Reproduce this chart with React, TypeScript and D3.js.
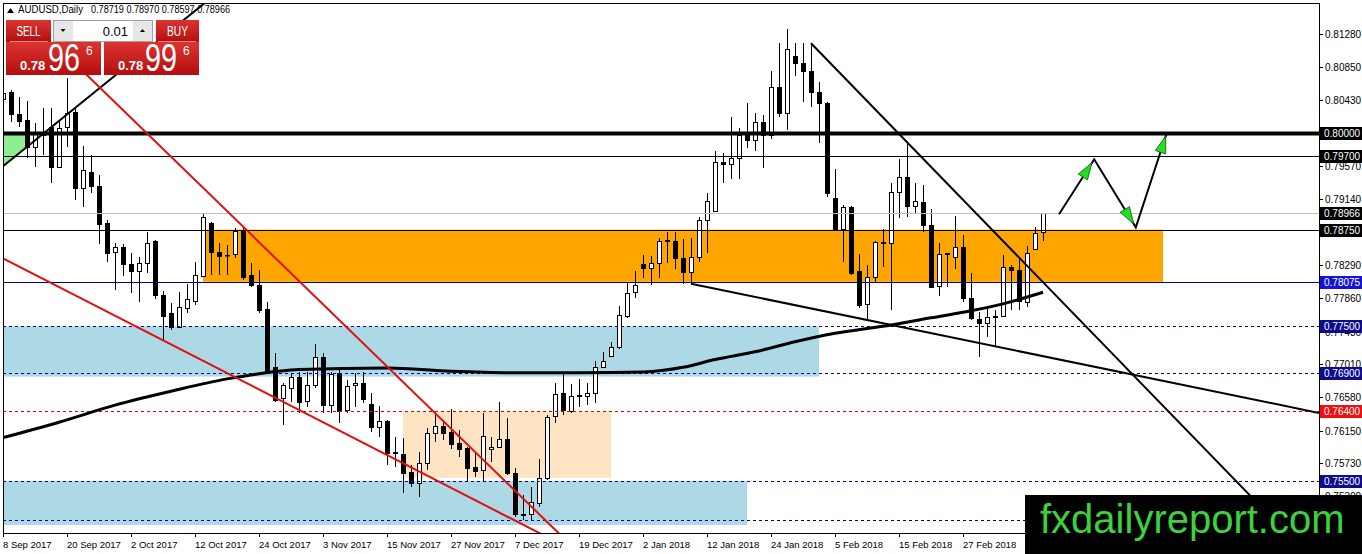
import React, { useEffect } from "react";
import * as d3 from "d3";

// chart geometry
const W = 1362;
const H = 554;
const LEFT = 3;
const RIGHT = 1319;
const TOP = 3;
const BOTTOM = 533;

// x axis labels (bar index of each label)
const dateLabels = [
  "8 Sep 2017", "20 Sep 2017", "2 Oct 2017", "12 Oct 2017", "24 Oct 2017", "3 Nov 2017",
  "15 Nov 2017", "27 Nov 2017", "7 Dec 2017", "19 Dec 2017", "2 Jan 2018", "12 Jan 2018",
  "24 Jan 2018", "5 Feb 2018", "15 Feb 2018", "27 Feb 2018",
];
const dateBars = [0, 8, 16, 24, 32, 40, 48, 56, 64, 72, 80, 88, 96, 104, 112, 120];

// daily candles, 8 Sep 2017 .. 13 Mar 2018
const opens = [
  0.8044, 0.8053, 0.8025, 0.8017, 0.7982, 0.8, 0.8008, 0.7956, 0.8008, 0.8027,
  0.7929, 0.795, 0.7932, 0.7883, 0.7846, 0.7853, 0.783, 0.7822, 0.7832, 0.786,
  0.7791, 0.7767, 0.7749, 0.7774, 0.7783, 0.7815, 0.7884, 0.7846, 0.7842, 0.7844,
  0.7873, 0.7816, 0.7803, 0.7772, 0.7698, 0.7657, 0.767, 0.7685, 0.7653, 0.7674,
  0.771, 0.7648, 0.769, 0.7642, 0.7674, 0.7677, 0.765, 0.762, 0.7628, 0.7586,
  0.7585, 0.7562, 0.7547, 0.7573, 0.7612, 0.7621, 0.7613, 0.7599, 0.7592, 0.7568,
  0.7564, 0.7591, 0.7594, 0.7604, 0.756, 0.7506, 0.7507, 0.7522, 0.7554, 0.7634,
  0.7664, 0.764, 0.766, 0.766, 0.7664, 0.7698, 0.7712, 0.7723, 0.7763, 0.7794,
  0.7831, 0.7826, 0.7832, 0.786, 0.786, 0.7838, 0.782, 0.784, 0.7888, 0.7899,
  0.7963, 0.796, 0.7968, 0.7997, 0.7991, 0.8014, 0.7997, 0.806, 0.8026, 0.81,
  0.8091, 0.808, 0.8053, 0.8039, 0.7916, 0.7876, 0.7904, 0.7821, 0.7779, 0.7814,
  0.7859, 0.7858, 0.7924, 0.7943, 0.7906, 0.7911, 0.7881, 0.7802, 0.7844, 0.784,
  0.7853, 0.7787, 0.776, 0.7754, 0.7762, 0.7763, 0.7827, 0.7823, 0.7782, 0.785,
  0.78719,
];
const highs = [
  0.8058, 0.8056, 0.8047, 0.8041, 0.8013, 0.8032, 0.8032, 0.8017, 0.8071, 0.8032,
  0.7983, 0.7972, 0.7946, 0.7888, 0.7858, 0.7856, 0.7845, 0.784, 0.7872, 0.7862,
  0.7796, 0.778, 0.7794, 0.7805, 0.7833, 0.7895, 0.7885, 0.7858, 0.7855, 0.7877,
  0.7877, 0.7832, 0.7823, 0.7781, 0.7716, 0.7677, 0.769, 0.7691, 0.7691, 0.7727,
  0.7716, 0.7691, 0.7697, 0.7681, 0.769, 0.7691, 0.7664, 0.7647, 0.7629, 0.7607,
  0.7606, 0.7571, 0.7588, 0.7619, 0.7638, 0.7629, 0.7643, 0.7616, 0.7594, 0.7586,
  0.7638, 0.7607, 0.7652, 0.7632, 0.7567, 0.7532, 0.7542, 0.7579, 0.7635, 0.7677,
  0.7691, 0.7675, 0.7682, 0.7677, 0.7705, 0.7717, 0.773, 0.7776, 0.7806, 0.7822,
  0.7842, 0.7841, 0.7864, 0.7872, 0.7872, 0.7863, 0.7864, 0.7891, 0.7922, 0.7977,
  0.7974, 0.8021, 0.8006, 0.8039, 0.8026, 0.8023, 0.808, 0.8116, 0.8134, 0.8116,
  0.8116, 0.8116, 0.8066, 0.804, 0.7953, 0.7907, 0.7906, 0.7844, 0.7829, 0.786,
  0.7876, 0.7935, 0.7966, 0.7987, 0.7935, 0.7933, 0.7902, 0.7858, 0.7845, 0.7893,
  0.7868, 0.7819, 0.7769, 0.7774, 0.7771, 0.7842, 0.7829, 0.7837, 0.7854, 0.7878,
  0.7897,
];
const lows = [
  0.8039, 0.8014, 0.8008, 0.7968, 0.7956, 0.7972, 0.7935, 0.7955, 0.7982, 0.7913,
  0.7904, 0.7922, 0.7857, 0.7833, 0.7797, 0.7815, 0.7793, 0.7781, 0.7819, 0.7785,
  0.7732, 0.7745, 0.7748, 0.7767, 0.7778, 0.7814, 0.7816, 0.7816, 0.7816, 0.7838,
  0.781, 0.7801, 0.7767, 0.769, 0.7652, 0.7622, 0.7652, 0.7638, 0.7646, 0.767,
  0.7638, 0.7638, 0.7625, 0.7638, 0.7646, 0.7651, 0.7613, 0.7607, 0.7571, 0.7568,
  0.7535, 0.7542, 0.7529, 0.7564, 0.76, 0.7603, 0.7591, 0.7581, 0.7549, 0.7555,
  0.7549, 0.7575, 0.7593, 0.7558, 0.7503, 0.75, 0.75, 0.7516, 0.7551, 0.7625,
  0.7635, 0.7638, 0.7645, 0.7648, 0.7651, 0.7697, 0.771, 0.7721, 0.7761, 0.7787,
  0.7813, 0.7803, 0.7813, 0.7832, 0.7824, 0.7805, 0.7805, 0.7833, 0.7845, 0.7898,
  0.7935, 0.7941, 0.7941, 0.7981, 0.7977, 0.7955, 0.7992, 0.8021, 0.8004, 0.8074,
  0.804, 0.8034, 0.7987, 0.7917, 0.7875, 0.7833, 0.7816, 0.7774, 0.7758, 0.7807,
  0.7827, 0.7771, 0.789, 0.7891, 0.7897, 0.7872, 0.78, 0.7789, 0.7801, 0.7824,
  0.7781, 0.7758, 0.771, 0.7736, 0.7725, 0.7762, 0.7771, 0.7771, 0.7775, 0.7849,
  0.78597,
];
const closes = [
  0.8052, 0.8025, 0.8016, 0.7982, 0.8, 0.7997, 0.7956, 0.8006, 0.8026, 0.7929,
  0.7952, 0.7931, 0.7882, 0.7845, 0.7853, 0.7831, 0.7822, 0.7832, 0.7858, 0.7791,
  0.7763, 0.7749, 0.7775, 0.7785, 0.7816, 0.7891, 0.7846, 0.7841, 0.7842, 0.7873,
  0.7814, 0.7803, 0.7771, 0.7691, 0.7655, 0.7674, 0.7685, 0.7652, 0.7674, 0.771,
  0.7648, 0.7688, 0.7641, 0.7673, 0.7677, 0.7656, 0.762, 0.7628, 0.7586, 0.7587,
  0.756, 0.7547, 0.7573, 0.7612, 0.7621, 0.7612, 0.7598, 0.7591, 0.7567, 0.7563,
  0.7608, 0.7594, 0.7604, 0.756, 0.7507, 0.7507, 0.7523, 0.7554, 0.7633, 0.7663,
  0.7642, 0.766, 0.7661, 0.7664, 0.7697, 0.7705, 0.7723, 0.7765, 0.7793, 0.7803,
  0.7825, 0.7832, 0.786, 0.7861, 0.7838, 0.782, 0.784, 0.7888, 0.7912, 0.7963,
  0.796, 0.7968, 0.7997, 0.7991, 0.8014, 0.7997, 0.806, 0.8026, 0.8109, 0.8091,
  0.808, 0.8053, 0.8039, 0.7922, 0.7876, 0.7904, 0.7819, 0.7778, 0.7814, 0.7859,
  0.7858, 0.7924, 0.7943, 0.7906, 0.7912, 0.7881, 0.7801, 0.7844, 0.7845, 0.7853,
  0.7787, 0.7761, 0.7754, 0.7762, 0.7763, 0.7827, 0.7823, 0.7783, 0.7845, 0.7871,
  0.78966,
];

// moving average, read at a few bars
const maBars = [0, 7, 14, 21, 28, 31, 37, 48, 56, 64, 72, 80, 85, 89, 94, 99, 104, 110, 116, 121, 125, 130];
const maPrices = [
  0.7606, 0.7626, 0.7648, 0.7666, 0.7682, 0.7687, 0.7694, 0.7696, 0.7692, 0.769, 0.769,
  0.7691, 0.7697, 0.7707, 0.7717, 0.773, 0.7741, 0.775, 0.7761, 0.777, 0.7779, 0.7794,
];

// right axis ticks
const priceTicks = [
  0.8128, 0.8085, 0.8043, 0.8, 0.7957, 0.7914, 0.7871, 0.7829, 0.7786, 0.7743, 0.7701,
  0.7658, 0.7615, 0.7573, 0.753,
];

// horizontal levels (the last one has its price tag under the watermark)
const levelPrices = [0.8, 0.797, 0.78966, 0.7875, 0.78075, 0.775, 0.769, 0.764, 0.755, 0.75];
const levelTagged = [true, true, true, true, true, true, true, true, true, false];
const levelStyle = [
  { c: "#000", w: 4, dash: "", bg: "#000" },
  { c: "#000", w: 1, dash: "", bg: "#000" },
  { c: "#c0c0c0", w: 1, dash: "", bg: "#000" },
  { c: "#000", w: 1, dash: "", bg: "#000" },
  { c: "#00008b", w: 1, dash: "", bg: "#1414d8" },
  { c: "#00008b", w: 1, dash: "3,3", bg: "#0c0c8c" },
  { c: "#00008b", w: 1, dash: "3,3", bg: "#0c0c8c" },
  { c: "#e00000", w: 1, dash: "3,3", bg: "#f01010" },
  { c: "#00008b", w: 1, dash: "3,3", bg: "#0c0c8c" },
  { c: "#00008b", w: 1, dash: "3,3", bg: "#0c0c8c" },
];

// rectangles: from bar, to bar, top price, bottom price
const zoneFrom = [-1, -1, 25, 50];
const zoneTo = [102, 93, 145, 76];
const zoneTop = [0.775, 0.755, 0.7875, 0.764];
const zoneBottom = [0.7685, 0.7493, 0.78075, 0.7554];
const zoneColors = ["#add8e6", "#add8e6", "#ffa500", "#ffe4c4"];

// green triangle at top left
const greenBars = [-1, 3.4, 3.4, 0];
const greenPrices = [0.8, 0.8, 0.7986, 0.7957];

// trend lines: [bar, price] -> [bar, price]
const trendFrom = [[0, 0.7957], [7, 0.811], [-1, 0.7843], [101, 0.8116], [86, 0.7805]];
const trendTo = [[27, 0.8183], [72, 0.7457], [70, 0.7467], [162, 0.7466], [164.5, 0.7638]];
const trendColors = ["#000", "#e01010", "#e01010", "#000", "#000"];

// forecast path
const pathBars = [132, 136.4, 141.6, 145.5];
const pathPrices = [0.7895, 0.7966, 0.7878, 0.8001];

const App = () => {
  useEffect(() => {
    document.body.style.margin = "0";
  }, []);

  const x = d3.scaleLinear().domain([0, 130]).range([3, 1043]);
  const y = d3.scaleLinear().domain([0.74827, 0.81681]).range([BOTTOM, TOP]);
  const font = "'Liberation Sans', Arial, sans-serif";

  const maLine = d3
    .line<number>()
    .x((d, i) => x(maBars[i]))
    .y((d) => y(d))
    .curve(d3.curveMonotoneX);

  const arrowHeads: string[] = [];
  for (let i = 1; i < pathBars.length; i++) {
    const x0 = x(pathBars[i - 1]), y0 = y(pathPrices[i - 1]);
    const x1 = x(pathBars[i]), y1 = y(pathPrices[i]);
    const len = Math.hypot(x1 - x0, y1 - y0);
    const ux = (x1 - x0) / len, uy = (y1 - y0) / len;
    const tx = x1 - ux * 4, ty = y1 - uy * 4;
    const bx = tx - ux * 17, by = ty - uy * 17;
    const px = -uy * 5.5, py = ux * 5.5;
    arrowHeads.push(`${tx},${ty} ${bx + px},${by + py} ${bx - px},${by - py}`);
  }

  return (
    <svg width={W} height={H} style={{ display: "block", background: "#fff" }} fontFamily={font}>
      <defs>
        <clipPath id="plot">
          <rect x={LEFT} y={TOP} width={RIGHT - LEFT} height={BOTTOM - TOP} />
        </clipPath>
        <linearGradient id="red" x1="0" y1="0" x2="0" y2="1">
          <stop offset="0" stopColor="#dc3431" />
          <stop offset="1" stopColor="#b30e0e" />
        </linearGradient>
      </defs>

      <g clipPath="url(#plot)">
        {zoneColors.map((c, i) => (
          <rect
            key={"z" + i}
            x={x(zoneFrom[i])}
            y={y(zoneTop[i])}
            width={x(zoneTo[i]) - x(zoneFrom[i])}
            height={y(zoneBottom[i]) - y(zoneTop[i])}
            fill={c}
          />
        ))}
        <polygon
          points={greenBars.map((b, i) => `${x(b)},${y(greenPrices[i])}`).join(" ")}
          fill="#90ee90"
        />

        {closes.map((c, i) => {
          const o = opens[i];
          const cx = Math.round(x(i));
          const top = Math.round(y(Math.max(o, c)));
          const bot = Math.round(y(Math.min(o, c)));
          const bull = c >= o;
          return (
            <g key={"c" + i}>
              <line
                x1={cx + 0.5}
                x2={cx + 0.5}
                y1={Math.round(y(highs[i]))}
                y2={Math.round(y(lows[i]))}
                stroke="#000"
              />
              <rect
                x={cx - 1.5}
                y={top + 0.5}
                width={4}
                height={Math.max(bot - top, 0.5)}
                fill={bull ? "#fff" : "#000"}
                stroke="#000"
              />
            </g>
          );
        })}

        {levelPrices.map((p, i) => (
          <line
            key={"l" + i}
            x1={LEFT}
            x2={RIGHT}
            y1={Math.round(y(p)) + 0.5}
            y2={Math.round(y(p)) + 0.5}
            stroke={levelStyle[i].c}
            strokeWidth={levelStyle[i].w}
            strokeDasharray={levelStyle[i].dash}
          />
        ))}

        <path d={maLine(maPrices) || ""} fill="none" stroke="#000" strokeWidth={3} />

        {trendFrom.map((f, i) => (
          <line
            key={"t" + i}
            x1={x(f[0])}
            y1={y(f[1])}
            x2={x(trendTo[i][0])}
            y2={y(trendTo[i][1])}
            stroke={trendColors[i]}
            strokeWidth={2}
          />
        ))}

        <polyline
          points={pathBars.map((b, i) => `${x(b)},${y(pathPrices[i])}`).join(" ")}
          fill="none"
          stroke="#000"
          strokeWidth={2}
        />
        {arrowHeads.map((pts, i) => (
          <polygon key={"a" + i} points={pts} fill="#22dd22" stroke="#145214" strokeWidth={0.8} />
        ))}
      </g>

      {/* frame */}
      <rect x={LEFT + 0.5} y={TOP + 0.5} width={RIGHT - LEFT} height={BOTTOM - TOP} fill="none" stroke="#000" />

      {/* price axis */}
      {priceTicks.map((p) => (
        <g key={"pt" + p}>
          <line x1={RIGHT} x2={RIGHT + 4} y1={Math.round(y(p)) + 0.5} y2={Math.round(y(p)) + 0.5} stroke="#000" />
          <text x={RIGHT + 6} y={y(p) + 4} fontSize={10} fill="#000">
            {p.toFixed(5)}
          </text>
        </g>
      ))}
      {levelPrices.map((p, i) =>
        levelTagged[i] ? (
          <g key={"b" + i}>
            <rect x={RIGHT + 1} y={Math.round(y(p)) - 6} width={W - RIGHT - 1} height={13} fill={levelStyle[i].bg} />
            <text x={RIGHT + 5} y={Math.round(y(p)) + 4} fontSize={10} fill="#fff">
              {p.toFixed(5)}
            </text>
          </g>
        ) : null
      )}

      {/* date axis */}
      {dateBars.map((b, i) => (
        <g key={"d" + i}>
          <line x1={x(b) + 0.5} x2={x(b) + 0.5} y1={BOTTOM} y2={BOTTOM + 4} stroke="#000" />
          <text x={x(b)} y={548} fontSize={9.5} fill="#000">
            {dateLabels[i]}
          </text>
        </g>
      ))}

      {/* header */}
      <path d="M7,13 L10.5,8 L14,13 Z" fill="#000" />
      <text x={18} y={13} fontSize={10} fill="#000" textLength={65} lengthAdjust="spacingAndGlyphs">
        AUDUSD,Daily
      </text>
      <text x={91} y={13} fontSize={10} fill="#000" textLength={139} lengthAdjust="spacingAndGlyphs">
        0.78719 0.78970 0.78597 0.78966
      </text>

      {/* one click trading panel */}
      <rect x={6} y={20} width={45} height={22} fill="url(#red)" />
      <line x1={10} x2={48} y1={41.5} y2={41.5} stroke="#f08a8a" />
      <text x={28.5} y={36} fontSize={14} fill="#fff" textAnchor="middle" textLength={24} lengthAdjust="spacingAndGlyphs">
        SELL
      </text>
      <rect x={53.5} y={20.5} width={99} height={21} fill="#fff" stroke="#a0a0a0" />
      <rect x={54} y={21} width={19} height={20} fill="#e6e6e6" />
      <rect x={133} y={21} width={19} height={20} fill="#e6e6e6" />
      <path d="M60.5,29 L65.5,29 L63,32 Z" fill="#000" />
      <path d="M140,32 L145,32 L142.5,29 Z" fill="#000" />
      <text x={128} y={36} fontSize={13} fill="#000" textAnchor="end">
        0.01
      </text>
      <rect x={156} y={20} width={43} height={22} fill="url(#red)" />
      <line x1={158} x2={196} y1={41.5} y2={41.5} stroke="#f08a8a" />
      <text x={177.5} y={36} fontSize={14} fill="#fff" textAnchor="middle" textLength={21} lengthAdjust="spacingAndGlyphs">
        BUY
      </text>

      <rect x={6} y={42} width={95} height={33} fill="url(#red)" />
      <rect x={104} y={42} width={95} height={33} fill="url(#red)" />
      <text x={20} y={70} fontSize={13} fontWeight="bold" fill="#fff">
        0.78
      </text>
      <text x={48} y={71} fontSize={38} fill="#fff" textLength={32} lengthAdjust="spacingAndGlyphs">
        96
      </text>
      <text x={86} y={55} fontSize={12} fill="#fff">
        6
      </text>
      <text x={118} y={70} fontSize={13} fontWeight="bold" fill="#fff">
        0.78
      </text>
      <text x={145} y={71} fontSize={38} fill="#fff" textLength={32} lengthAdjust="spacingAndGlyphs">
        99
      </text>
      <text x={183} y={55} fontSize={12} fill="#fff">
        6
      </text>

      {/* watermark */}
      <rect x={1025} y={495} width={W - 1025} height={H - 495} fill="#000" />
      <text x={1040} y={533} fontSize={40} fill="#3cd23c">
        fxdailyreport.com
      </text>
    </svg>
  );
};

export default App;
